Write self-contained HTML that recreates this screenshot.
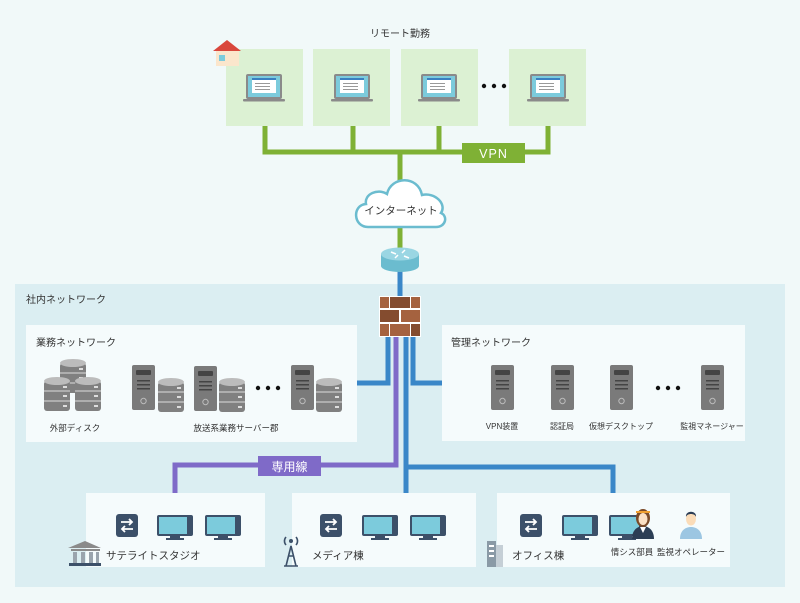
<!DOCTYPE html>
<html><head><meta charset="utf-8"><style>
html,body{margin:0;padding:0;background:#f1f9f9;}
svg{display:block;font-family:"Liberation Sans","Noto Sans CJK JP",sans-serif;}
</style></head><body>
<svg width="800" height="603" viewBox="0 0 800 603" xmlns="http://www.w3.org/2000/svg">
<defs>
<g id="laptop">
 <rect x="3" y="0" width="36" height="25" rx="2" fill="#8a8a8a"/>
 <rect x="5" y="2" width="32" height="21" fill="#7ccbdc"/>
 <rect x="9" y="4" width="24" height="15" fill="#fff"/>
 <rect x="9" y="4" width="24" height="2" fill="#3a7fc0"/>
 <rect x="12" y="9" width="15" height="1" fill="#999"/><rect x="12" y="12" width="15" height="1" fill="#999"/><rect x="12" y="15" width="15" height="1" fill="#999"/>
 <rect x="0" y="25" width="42" height="2.5" rx="1" fill="#8a8a8a"/>
</g>
<g id="tower">
 <rect x="0" y="0" width="23" height="45" rx="2" fill="#7a7a7a"/>
 <rect x="4" y="5" width="15" height="5" rx="1" fill="#444"/>
 <rect x="5" y="15" width="13" height="1.5" fill="#444"/><rect x="5" y="19" width="13" height="1.5" fill="#444"/><rect x="5" y="23" width="13" height="1.5" fill="#444"/>
 <circle cx="11.5" cy="36" r="2.7" fill="none" stroke="#bbb" stroke-width="1"/>
</g>
<g id="disk">
 <rect x="0" y="4" width="26" height="30" rx="3" fill="#808080"/>
 <ellipse cx="13" cy="4" rx="13" ry="4" fill="#bcbcbc"/>
 <line x1="0" y1="14" x2="26" y2="14" stroke="#ddd" stroke-width="1"/><line x1="0" y1="24" x2="26" y2="24" stroke="#ddd" stroke-width="1"/>
 <rect x="19" y="9" width="4" height="2" fill="#ddd"/><rect x="19" y="18" width="4" height="2" fill="#ddd"/><rect x="19" y="28" width="4" height="2" fill="#ddd"/>
</g>
<g id="sw">
 <rect x="0" y="0" width="22" height="23" rx="3" fill="#3c5069"/>
 <path d="M5 8h11M13 5l3 3-3 3M17 15H6M9 12l-3 3 3 3" stroke="#fff" stroke-width="1.8" fill="none"/>
</g>
<g id="mon">
 <rect x="0" y="0" width="36" height="21" rx="2" fill="#3c5069"/>
 <rect x="2" y="2" width="28" height="17" fill="#7ccbdc"/>
 <rect x="13" y="21" width="10" height="3" fill="#3c5069"/>
 <rect x="9" y="23" width="18" height="2" fill="#3c5069"/>
</g>
</defs>

<text x="400" y="37" font-size="10" fill="#333" text-anchor="middle">リモート勤務</text>
<rect x="226" y="49" width="77" height="77" fill="#dcf1d3"/>
<rect x="313" y="49" width="77" height="77" fill="#dcf1d3"/>
<rect x="401" y="49" width="77" height="77" fill="#dcf1d3"/>
<rect x="509" y="49" width="77" height="77" fill="#dcf1d3"/>
<use href="#laptop" x="243" y="74"/><use href="#laptop" x="331" y="74"/><use href="#laptop" x="418" y="74"/><use href="#laptop" x="527" y="74"/>
<circle cx="484" cy="86" r="2.2" fill="#111"/><circle cx="494" cy="86" r="2.2" fill="#111"/><circle cx="504" cy="86" r="2.2" fill="#111"/>
<rect x="216" y="50" width="23" height="16" fill="#fbe6cc"/>
<rect x="219" y="55" width="6" height="6" fill="#7ccbdc"/>
<path d="M213 51 L227 40 L241 51Z" fill="#d9473c"/>
<g stroke="#7fb135" stroke-width="5" fill="none">
<path d="M265 126V152H548V126M353 126V152M439 126V152M400 152V190M400 225V248"/>
</g>
<rect x="462" y="143" width="63" height="20" fill="#7fb135"/>
<text x="493.5" y="158" font-size="12.5" fill="#fff" text-anchor="middle" letter-spacing="1">VPN</text>
<path d="M368 227 C353 227 352 205 366 204 C364 194 378 188 387 194 C391 176 418 175 422 195 C435 192 447 204 441 213 C448 216 446 227 436 227 Z" fill="#fff" stroke="#6bbccf" stroke-width="2.5"/>
<text x="401" y="214" font-size="10.5" fill="#333" text-anchor="middle">インターネット</text>

<rect x="15" y="284" width="770" height="303" fill="#dbeef2"/>
<text x="26" y="303" font-size="10" fill="#333">社内ネットワーク</text>
<rect x="397.5" y="265" width="5" height="32" fill="#3a87c8"/>
<path d="M381 254 V266 A19 6 0 0 0 419 266 V254Z" fill="#6bbccf"/>
<ellipse cx="400" cy="254" rx="19" ry="6.5" fill="#9ad6e3"/>
<path d="M391 252l5 2M404 256l5 2M395 258l3-3M405 250l-3 3" stroke="#fff" stroke-width="1.5"/>

<rect x="26" y="325" width="331" height="117" fill="#f5fbfc"/>
<rect x="442" y="325" width="303" height="116" fill="#f5fbfc"/>
<text x="36" y="346" font-size="10" fill="#333">業務ネットワーク</text>
<text x="451" y="346" font-size="10" fill="#333">管理ネットワーク</text>

<g fill="none" stroke-width="5">
<path d="M388 335V383H357" stroke="#3a87c8"/>
<path d="M413 335V383H442" stroke="#3a87c8"/>
<path d="M406 335V493M406 467H613V493" stroke="#3a87c8"/>
<path d="M396 335V465H175V493" stroke="#7f6ac8"/>
</g>
<rect x="258" y="456" width="63" height="20" fill="#7f6ac8"/>
<text x="289.5" y="471" font-size="12" fill="#fff" text-anchor="middle">専用線</text>

<g>
<rect x="379" y="296" width="42" height="41" fill="#fff"/>
<rect x="380" y="297" width="9" height="11" fill="#a5623f"/><rect x="390" y="297" width="20" height="11" fill="#844c2f"/><rect x="411" y="297" width="9" height="11" fill="#a5623f"/>
<rect x="380" y="310" width="19" height="12" fill="#844c2f"/><rect x="401" y="310" width="19" height="12" fill="#a5623f"/>
<rect x="380" y="324" width="9" height="12" fill="#a5623f"/><rect x="390" y="324" width="20" height="12" fill="#a5623f"/><rect x="411" y="324" width="9" height="12" fill="#844c2f"/>
</g>

<use href="#disk" x="60" y="359"/>
<use href="#disk" x="44" y="377"/>
<use href="#disk" x="75" y="377"/>
<text x="75" y="431" font-size="8.5" fill="#333" text-anchor="middle">外部ディスク</text>
<use href="#tower" x="132" y="365"/><use href="#disk" x="158" y="378"/>
<use href="#tower" x="194" y="366"/><use href="#disk" x="219" y="378"/>
<circle cx="258" cy="388" r="2.2" fill="#111"/><circle cx="268" cy="388" r="2.2" fill="#111"/><circle cx="278" cy="388" r="2.2" fill="#111"/>
<use href="#tower" x="291" y="365"/><use href="#disk" x="316" y="378"/>
<text x="236" y="431" font-size="8.5" fill="#333" text-anchor="middle">放送系業務サーバー郡</text>

<use href="#tower" x="491" y="365"/><use href="#tower" x="551" y="365"/><use href="#tower" x="610" y="365"/><use href="#tower" x="701" y="365"/>
<circle cx="658" cy="388" r="2.2" fill="#111"/><circle cx="668" cy="388" r="2.2" fill="#111"/><circle cx="678" cy="388" r="2.2" fill="#111"/>
<g font-size="8" fill="#333" text-anchor="middle">
<text x="502" y="429">VPN装置</text><text x="562" y="429">認証局</text><text x="621" y="429">仮想デスクトップ</text><text x="712" y="429">監視マネージャー</text>
</g>

<rect x="86" y="493" width="179" height="74" fill="#f5fbfc"/>
<rect x="292" y="493" width="184" height="74" fill="#f5fbfc"/>
<rect x="497" y="493" width="233" height="74" fill="#f5fbfc"/>
<use href="#sw" x="116" y="514"/><use href="#mon" x="157" y="515"/><use href="#mon" x="205" y="515"/>
<use href="#sw" x="320" y="514"/><use href="#mon" x="362" y="515"/><use href="#mon" x="410" y="515"/>
<use href="#sw" x="520" y="514"/><use href="#mon" x="562" y="515"/><use href="#mon" x="609" y="515"/>
<path d="M632 539 C632 528 640 526 643 526 C646 526 654 528 654 539Z" fill="#2c3e55"/>
<path d="M640 527 L643 533 L646 527Z" fill="#fff"/>
<ellipse cx="643" cy="518" rx="7" ry="9" fill="#7a4a28"/>
<ellipse cx="643" cy="519" rx="4.5" ry="6" fill="#fbe0c4"/>
<rect x="636" y="511" width="14" height="2" fill="#f0a030"/>
<path d="M680 539 C680 530 686 527 691 527 C696 527 702 530 702 539Z" fill="#9cc6e2"/>
<ellipse cx="691" cy="519" rx="5" ry="6.5" fill="#fbdcb8"/>
<path d="M686 517 C685 510 697 510 696 517 C695 513 687 513 686 517Z" fill="#2c3e55"/>
<g fill="#3c5069">
<rect x="69" y="563" width="32" height="3"/>
<path d="M68 548 L85 541 L101 548Z" fill="#8a8a8a"/>
<rect x="71" y="549" width="29" height="2" fill="#8a8a8a"/>
<rect x="73" y="552" width="4" height="11" fill="#9aa4ad"/><rect x="81" y="552" width="4" height="11" fill="#9aa4ad"/><rect x="89" y="552" width="4" height="11" fill="#9aa4ad"/><rect x="96" y="552" width="3" height="11" fill="#9aa4ad"/>
</g>
<g stroke="#3c5069" stroke-width="1.6" fill="none">
<path d="M286 566 L291 546 L296 566M284 566H298M288 556H294"/>
<path d="M286 545 A6 6 0 0 1 286 537M296 545 A6 6 0 0 0 296 537"/>
</g>
<circle cx="291" cy="541" r="2" fill="#3c5069"/>
<rect x="487" y="541" width="9" height="26" fill="#8a9aa6"/>
<rect x="496" y="545" width="7" height="22" fill="#c5cfd6"/>
<rect x="489" y="545" width="5" height="2" fill="#fff"/><rect x="489" y="550" width="5" height="2" fill="#fff"/><rect x="489" y="555" width="5" height="2" fill="#fff"/>
<g font-size="10.5" fill="#333">
<text x="106" y="559">サテライトスタジオ</text>
<text x="312" y="559">メディア棟</text>
<text x="512" y="559">オフィス棟</text>
</g>
<g font-size="8.5" fill="#333" text-anchor="middle">
<text x="632" y="555">情シス部員</text><text x="691" y="555">監視オペレーター</text>
</g>
</svg>
</body></html>
